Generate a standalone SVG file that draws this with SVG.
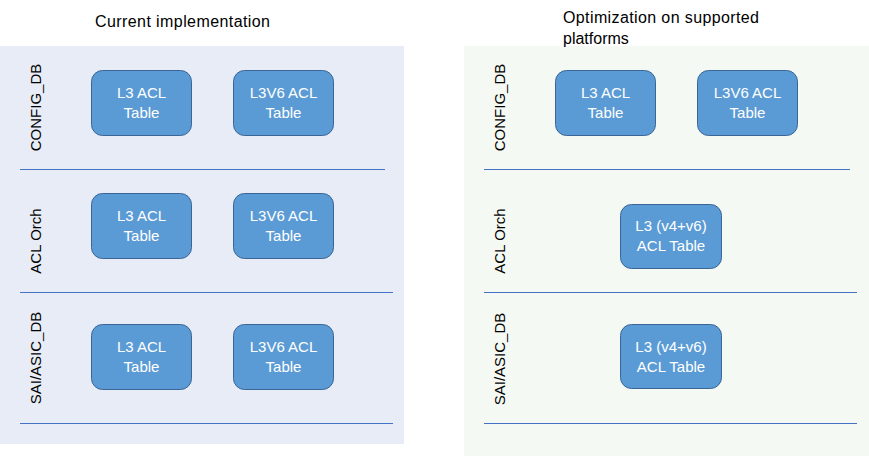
<svg xmlns="http://www.w3.org/2000/svg" width="869" height="456" viewBox="0 0 869 456">
<style>
.title{font-family:"Liberation Sans",Arial,sans-serif;font-size:16px;fill:#000}
.lab{font-family:"Liberation Sans",Arial,sans-serif;font-size:15px;fill:#000;text-anchor:middle}
.box rect{fill:#5b9bd5;stroke:#3a6596;stroke-width:1}
.box text{font-family:"Liberation Sans",Arial,sans-serif;font-size:15px;fill:#fff;text-anchor:middle}
.sep{stroke:#4472c4;stroke-width:1.2}
</style>
<rect id="panel-left" x="0" y="46" width="404" height="398" fill="#e7ecf6"/>
<rect id="panel-right" x="464" y="46" width="405" height="410" fill="#f5f9f3"/>
<text class="title" x="95" y="27" textLength="175">Current implementation</text>
<text class="title" x="563" y="23" textLength="196">Optimization on supported</text>
<text class="title" x="563" y="44">platforms</text>
<g id="separators">
<line class="sep" x1="20" y1="169.5" x2="385" y2="169.5"/>
<line class="sep" x1="20" y1="292.5" x2="393" y2="292.5"/>
<line class="sep" x1="20" y1="423.5" x2="393" y2="423.5"/>
<line class="sep" x1="484" y1="169.5" x2="850" y2="169.5"/>
<line class="sep" x1="484" y1="292.5" x2="857" y2="292.5"/>
<line class="sep" x1="484" y1="423.5" x2="857" y2="423.5"/>
</g>
<g id="row-labels">
<text class="lab" transform="translate(40.5,107.5) rotate(-90)">CONFIG_DB</text>
<text class="lab" transform="translate(40.5,241) rotate(-90)">ACL Orch</text>
<text class="lab" transform="translate(40.5,358) rotate(-90)">SAI/ASIC_DB</text>
<text class="lab" transform="translate(505,107.5) rotate(-90)">CONFIG_DB</text>
<text class="lab" transform="translate(505,241) rotate(-90)">ACL Orch</text>
<text class="lab" transform="translate(505,359) rotate(-90)">SAI/ASIC_DB</text>
</g>
<g id="left-config-l3" class="box"><rect x="91.5" y="70.5" width="100" height="65" rx="11"/><text x="141.5" y="98">L3 ACL</text><text x="141.5" y="118">Table</text></g>
<g id="left-config-l3v6" class="box"><rect x="233.5" y="70.5" width="100" height="65" rx="11"/><text x="283.5" y="98">L3V6 ACL</text><text x="283.5" y="118">Table</text></g>
<g id="left-orch-l3" class="box"><rect x="91.5" y="193.5" width="100" height="65" rx="11"/><text x="141.5" y="221">L3 ACL</text><text x="141.5" y="241">Table</text></g>
<g id="left-orch-l3v6" class="box"><rect x="233.5" y="193.5" width="100" height="65" rx="11"/><text x="283.5" y="221">L3V6 ACL</text><text x="283.5" y="241">Table</text></g>
<g id="left-asic-l3" class="box"><rect x="91.5" y="324.5" width="100" height="65" rx="11"/><text x="141.5" y="352">L3 ACL</text><text x="141.5" y="372">Table</text></g>
<g id="left-asic-l3v6" class="box"><rect x="233.5" y="324.5" width="100" height="65" rx="11"/><text x="283.5" y="352">L3V6 ACL</text><text x="283.5" y="372">Table</text></g>
<g id="right-config-l3" class="box"><rect x="555.5" y="70.5" width="100" height="65" rx="11"/><text x="605.5" y="98">L3 ACL</text><text x="605.5" y="118">Table</text></g>
<g id="right-config-l3v6" class="box"><rect x="697.5" y="70.5" width="100" height="65" rx="11"/><text x="747.5" y="98">L3V6 ACL</text><text x="747.5" y="118">Table</text></g>
<g id="right-orch-l3" class="box"><rect x="620.5" y="204.5" width="101" height="64" rx="11"/><text x="671" y="231">L3 (v4+v6)</text><text x="671" y="251">ACL Table</text></g>
<g id="right-asic-l3" class="box"><rect x="620.5" y="324.5" width="101" height="64" rx="11"/><text x="671" y="352">L3 (v4+v6)</text><text x="671" y="372">ACL Table</text></g>
</svg>
